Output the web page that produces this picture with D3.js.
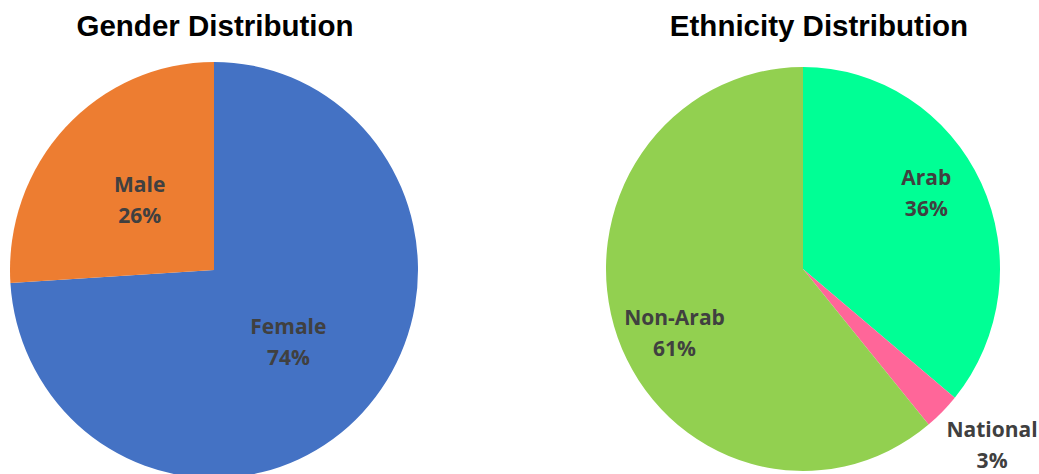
<!DOCTYPE html>
<html>
<head>
<meta charset="utf-8">
<script src="https://cdn.jsdelivr.net/npm/d3@7"></script>
<style>
  body { margin: 0; background: #fff; }
  .title { font-family: "Liberation Sans", Arial, sans-serif; font-weight: bold; font-size: 29.5px; fill: #000; }
  .slice-label { font-family: "Open Sans", "Noto Sans", sans-serif; font-weight: bold; font-size: 21px; fill: #404040; }
</style>
</head>
<body>
<svg width="1039" height="474"></svg>
<script>
  // DATA
  const genderLabels = ["Female", "Male"];
  const genderValues = [74, 26];
  const genderColors = ["#4472C4", "#ED7D31"];

  const ethnicityLabels = ["Arab", "National", "Non-Arab"];
  const ethnicityValues = [36, 3, 61];
  const ethnicityColors = ["#00FF95", "#FF6699", "#92D050"];

  const svg = d3.select("svg");

  // DRAW ONE PIE
  const drawPie = (opts) => {
    const data = opts.labels.map((l, i) => ({ label: l, value: opts.values[i] }));

    const pie = d3.pie()
      .value((d) => d.value)
      .sort(null);

    const color = d3.scaleOrdinal().domain(opts.labels).range(opts.colors);

    const arc = d3.arc().innerRadius(0).outerRadius(opts.r);

    const g = svg.append("g")
      .attr("transform", `translate(${opts.cx},${opts.cy})`);

    g.append("g")
      .attr("transform", `scale(1,${opts.sy})`)
      .selectAll("path")
      .data(pie(data))
      .enter()
      .append("path")
      .attr("d", arc)
      .attr("fill", (d) => color(d.data.label));

    // LABELS
    const labels = g.selectAll("text.slice-label")
      .data(pie(data))
      .enter()
      .append("text")
      .attr("class", "slice-label")
      .attr("text-anchor", "middle")
      .attr("transform", (d) => {
        const k = opts.labelRadius[d.data.label];
        const a = (d.startAngle + d.endAngle) / 2;
        const nudge = opts.nudge[d.data.label] || [0, 0];
        const x = Math.sin(a) * opts.r * k + nudge[0];
        const y = -Math.cos(a) * opts.r * k * opts.sy + nudge[1];
        return `translate(${x},${y})`;
      });

    labels.append("tspan")
      .attr("x", 0)
      .attr("y", -7)
      .text((d) => d.data.label);

    labels.append("tspan")
      .attr("x", 0)
      .attr("y", 24)
      .text((d) => d.data.value + "%");

    svg.append("text")
      .attr("class", "title")
      .attr("x", opts.titleX)
      .attr("y", 36)
      .attr("text-anchor", "middle")
      .text(opts.title);
  };

  drawPie({
    title: "Gender Distribution",
    titleX: 215,
    labels: genderLabels,
    values: genderValues,
    colors: genderColors,
    cx: 214, cy: 270, r: 204, sy: 1.02,
    labelRadius: { Female: 0.5, Male: 0.5 },
    nudge: { Female: [0, 0], Male: [0, 0] }
  });

  drawPie({
    title: "Ethnicity Distribution",
    titleX: 819,
    labels: ethnicityLabels,
    values: ethnicityValues,
    colors: ethnicityColors,
    cx: 803, cy: 269, r: 197, sy: 1.025,
    labelRadius: { Arab: 0.72, National: 1.3, "Non-Arab": 0.72 },
    nudge: { Arab: [-5, -15], National: [8, -11], "Non-Arab": [5, 14] }
  });
</script>
</body>
</html>
